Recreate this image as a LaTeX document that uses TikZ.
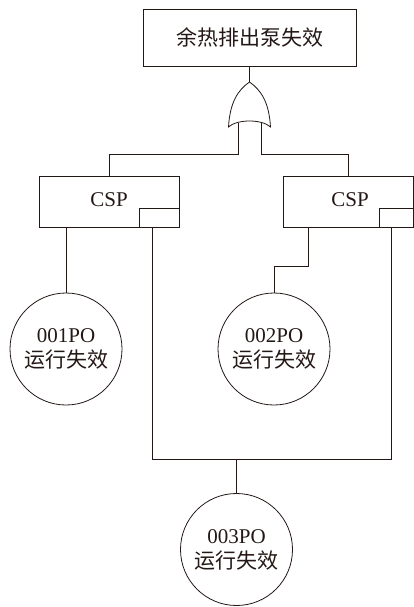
\documentclass[tikz,border=0pt]{standalone}
\usepackage{fontspec}
\setmainfont{Liberation Serif}
\newfontfamily\cjk{Noto Sans CJK SC}
\usetikzlibrary{calc}
\definecolor{ink}{RGB}{35,24,21}
\begin{document}
\begin{tikzpicture}[x=1pt,y=-1pt,line width=0.8pt, color=ink,
  txt/.style={font=\fontsize{21}{25}\selectfont, text=ink},
  evbox/.style={draw=ink, rectangle, inner sep=0pt, txt},
  basic/.style={draw=ink, circle, minimum size=112pt, inner sep=0pt, align=center, txt}]
\useasboundingbox (0,0) rectangle (414,607);
% top event
\node[evbox, minimum width=213pt, minimum height=57pt] (top) at (249.5,37.5) {\cjk 余热排出泵失效};
% OR gate
\coordinate (gtip) at (249.5,82);
\draw (228.5,127) .. controls (230,102) and (238,90) .. (gtip)
  .. controls (261,90) and (269,102) .. (270.5,127)
  .. controls (262,119) and (237,119) .. cycle;
\coordinate (in1) at (238.5,122.5);
\coordinate (in2) at (261,122.5);
\draw (top.south) -- (gtip);
% CSP boxes
\node[evbox, minimum width=140pt, minimum height=51pt] (csp1) at (109,201.5) {};
\node[txt] (csp1t) at (109,200) {CSP};
\node[evbox, minimum width=40pt, minimum height=19pt, anchor=south east] (sb1) at (csp1.south east) {};
\node[evbox, minimum width=130pt, minimum height=51pt] (csp2) at (348,201.5) {};
\node[txt] (csp2t) at (350,200) {CSP};
\node[evbox, minimum width=34pt, minimum height=19pt, anchor=south east] (sb2) at (csp2.south east) {};
\draw (in1) -- ++(0,31.5) -| (csp1.north);
\draw (in2) -- ++(0,31.5) -| (csp2.north);
% basic events
\node[basic] (c1) at (66,349) {001PO\\\cjk 运行失效};
\node[basic] (c2) at (274,349) {002PO\\\cjk 运行失效};
\node[basic] (c3) at (236.5,549.5) {003PO\\\cjk 运行失效};
\draw (c1.north |- csp1.south) -- (c1.north);
\coordinate (r1) at ($(csp2.south west)+(26,0)$);
\draw (r1) -- ++(0,39) -| (c2.north);
\coordinate (l1) at ($(sb1.south west)+(14,0)$);
\coordinate (l2) at ($(sb2.south west)+(13,0)$);
\coordinate (bus) at (236.5,459.5);
\draw (l1) |- (bus) -| (l2);
\draw (bus) -- (c3.north);
\end{tikzpicture}
\end{document}
